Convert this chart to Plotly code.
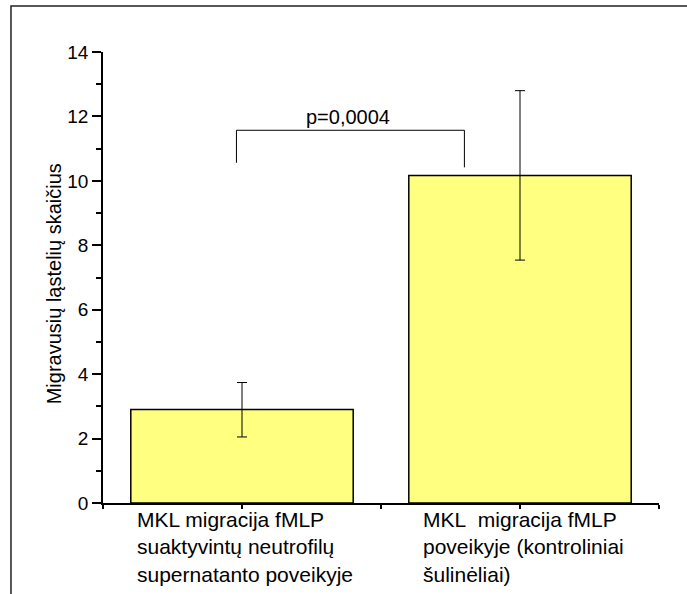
import plotly.graph_objects as go

# data
categories = [1, 2]
category_labels = [
    "MKL migracija fMLP<br>suaktyvintų neutrofilų<br>supernatanto poveikyje",
    "MKL\u00a0 migracija fMLP<br>poveikyje (kontroliniai<br>šulinėliai)",
]
means = [2.9, 10.17]
err_plus = [0.84, 2.63]
err_minus = [0.85, 2.63]
y_title = "Migravusių ląstelių skaičius"
p_text = "p=0,0004"
bracket_x = [0.98, 0.98, 1.80, 1.80]
bracket_y = [10.56, 11.57, 11.57, 10.42]
y_ticks = [0, 2, 4, 6, 8, 10, 12, 14]

FONT = "Liberation Sans, Arial, sans-serif"

fig = go.Figure()
fig.add_trace(go.Bar(
    x=categories, y=means, width=0.8,
    marker=dict(color="#FFFF80", line=dict(color="black", width=1.5)),
    error_y=dict(type="data", array=err_plus, arrayminus=err_minus,
                 color="black", thickness=1, width=5),
    showlegend=False,
))
fig.add_trace(go.Scatter(
    x=bracket_x, y=bracket_y, mode="lines",
    line=dict(color="black", width=1), showlegend=False, hoverinfo="skip",
))
fig.add_annotation(x=sum(bracket_x[1:3]) / 2 - 0.01, y=bracket_y[1], text=p_text,
                   showarrow=False, yanchor="bottom", yshift=0,
                   font=dict(family=FONT, size=20, color="black"))

for cat, lab in zip(categories, category_labels):
    fig.add_annotation(x=cat - 0.4, y=0, xref="x", yref="paper", text=lab,
                       showarrow=False, xanchor="left", yanchor="top", align="left",
                       xshift=4 + (cat - 1) * 8, yshift=-3,
                       font=dict(family=FONT, size=21, color="black"))

fig.add_annotation(x=-0.088, y=0.485, xref="paper", yref="paper", text=y_title,
                   textangle=-90, showarrow=False, xanchor="center", yanchor="middle",
                   font=dict(family=FONT, size=20, color="black"))

# outer frame (only left and top visible)
fig.add_shape(type="rect", xref="paper", yref="paper",
              x0=-0.1655, x1=1.06, y0=-0.25, y1=1.102,
              line=dict(color="#222222", width=1.5), layer="below")

fig.update_layout(
    width=687, height=594,
    margin=dict(l=103, r=28, t=52, b=91),
    paper_bgcolor="white", plot_bgcolor="white",
    bargap=0.2,
    font=dict(family=FONT, color="black"),
)
fig.update_xaxes(
    range=[0.5, 2.5], showgrid=False, zeroline=False,
    showline=True, linecolor="black", linewidth=1.5,
    tickmode="array", tickvals=[0.5, 1, 1.5, 2, 2.5], showticklabels=False,
    ticks="outside", ticklen=4, tickwidth=1.5, tickcolor="black",
)
fig.update_yaxes(
    range=[0, 14], showgrid=False, zeroline=False,
    showline=True, linecolor="black", linewidth=1.5,
    tickmode="array", tickvals=y_ticks,
    ticks="outside", ticklen=9, tickwidth=1.5, tickcolor="black",
    tickfont=dict(family=FONT, size=19, color="black"),
    minor=dict(ticks="outside", ticklen=5, tickwidth=1.5, tickcolor="black", dtick=1, showgrid=False),
)

fig.write_html("out.html", config={"displayModeBar": False},
               post_script="document.body.style.margin='0';")
